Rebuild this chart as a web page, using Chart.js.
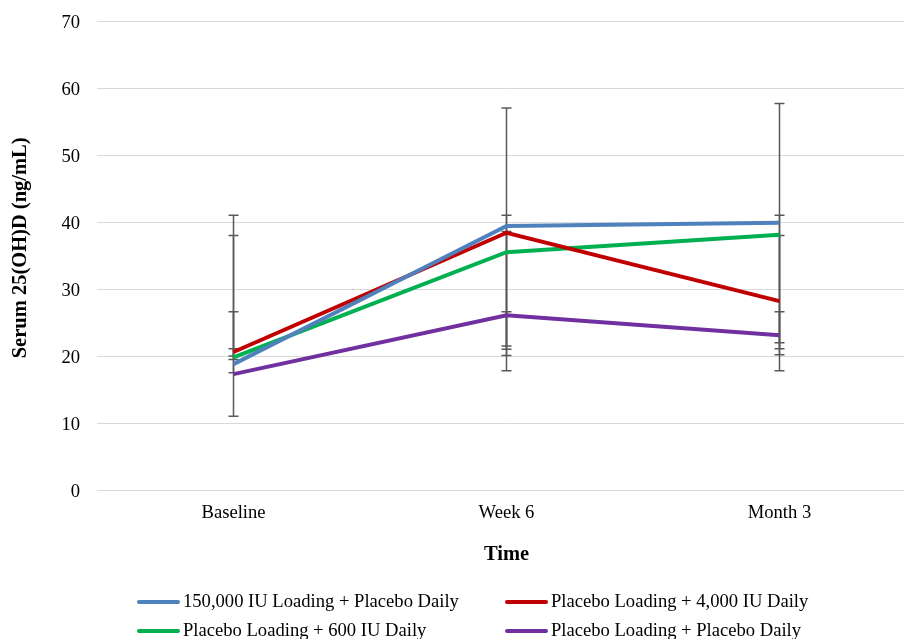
<!DOCTYPE html>
<html>
<head>
<meta charset="utf-8">
<script src="https://cdn.jsdelivr.net/npm/chart.js@4/dist/chart.umd.min.js"></script>
<style>
  html, body { margin: 0; padding: 0; background: #fff; overflow: hidden; width: 904px; height: 639px; }
  #wrap { position: absolute; left: 0; top: 0; width: 916px; height: 639px; }
  .lg { position: absolute; font-family: "Liberation Serif", "Times New Roman", serif; font-size: 18.6px; color: #000; white-space: nowrap; line-height: 20px; }
  .lg span.sw { display: inline-block; width: 43px; height: 4px; vertical-align: middle; margin-right: 3px; position: relative; top: -1px; border-radius: 2px; }
</style>
</head>
<body>
<div id="wrap"><canvas id="c" width="916" height="639"></canvas></div>
<div id="legend"></div>
<script>
// ---- data ----
const categories = ['Baseline', 'Week 6', 'Month 3'];
const seriesNames = [
  '150,000 IU Loading + Placebo Daily',
  'Placebo Loading + 4,000 IU Daily',
  'Placebo Loading + 600 IU Daily',
  'Placebo Loading + Placebo Daily'
];
const loading150 = [18.8, 39.4, 39.9];
const daily4000 = [20.6, 38.4, 28.2];
const daily600 = [19.8, 35.5, 38.1];
const placeboBoth = [17.3, 26.1, 23.1];
// error bar ends (low / high)
const loading150Low = [11.0, 21.5, 22.0];
const loading150High = [26.6, 57.0, 57.7];
const daily4000Low = [20.0, 17.8, 17.8];
const daily4000High = [41.0, 41.0, 38.0];
const daily600Low = [19.5, 20.1, 21.1];
const daily600High = [38.0, 38.6, 41.0];
const placeboLow = [17.5, 21.0, 20.2];
const placeboHigh = [21.1, 26.6, 26.6];
const yTicks = [0, 10, 20, 30, 40, 50, 60, 70];

const colors = ['#4F81BD', '#C00000', '#00B050', '#7030A0'];
const values = [loading150, daily4000, daily600, placeboBoth];
const lows = [loading150Low, daily4000Low, daily600Low, placeboLow];
const highs = [loading150High, daily4000High, daily600High, placeboHigh];

const FONT = '"Liberation Serif", "Times New Roman", serif';
const FS = 18.6;
const TFS = 20.5;

const errorBarPlugin = {
  id: 'errorBars',
  beforeDatasetsDraw(chart) {
    const ctx = chart.ctx;
    const xs = chart.scales.x, ys = chart.scales.y;
    ctx.save();
    ctx.strokeStyle = '#595959';
    ctx.lineWidth = 1.5;
    for (let s = 0; s < values.length; s++) {
      for (let i = 0; i < categories.length; i++) {
        const x = xs.getPixelForValue(i);
        const yl = ys.getPixelForValue(lows[s][i]);
        const yh = ys.getPixelForValue(highs[s][i]);
        ctx.beginPath();
        ctx.moveTo(x, yl); ctx.lineTo(x, yh);
        ctx.moveTo(x - 5, yl); ctx.lineTo(x + 5, yl);
        ctx.moveTo(x - 5, yh); ctx.lineTo(x + 5, yh);
        ctx.stroke();
      }
    }
    ctx.restore();
  }
};

new Chart(document.getElementById('c'), {
  type: 'line',
  data: {
    labels: categories,
    datasets: values.map((v, i) => ({
      label: seriesNames[i],
      data: v,
      borderColor: colors[i],
      backgroundColor: colors[i],
      borderWidth: 4,
      pointRadius: 0,
      tension: 0,
      fill: false
    }))
  },
  options: {
    responsive: false,
    animation: false,
    layout: { padding: { top: 21, left: 8, right: 0, bottom: 72 } },
    plugins: { legend: { display: false }, tooltip: { enabled: false } },
    scales: {
      x: {
        offset: true,
        grid: { display: false, drawTicks: false },
        border: { display: false },
        ticks: { color: '#000', font: { family: FONT, size: FS }, padding: 12 },
        title: { display: true, text: 'Time', color: '#000', font: { family: FONT, size: TFS, weight: 'bold' }, padding: { top: 6, bottom: 0 } }
      },
      y: {
        min: 0, max: 70,
        afterBuildTicks(scale) { scale.ticks = yTicks.map(v => ({ value: v })); },
        grid: { color: '#D9D9D9', lineWidth: 1, drawTicks: false },
        border: { display: false },
        ticks: { color: '#000', font: { family: FONT, size: FS, lineHeight: 0.4 }, padding: 17, labelOffset: 2 },
        title: { display: true, text: '\u00A0\u00A0\u00A0Serum 25(OH)D (ng/mL)', color: '#000', font: { family: FONT, size: TFS, weight: 'bold' }, padding: { top: 0, bottom: 10 } },
        afterFit(scale) { scale.width = 89; }
      }
    }
  },
  plugins: [errorBarPlugin]
});

// legend (HTML, built from the series names/colours)
const legendPos = [[137, 591], [505, 591], [137, 620], [505, 620]];
const lg = document.getElementById('legend');
seriesNames.forEach((n, i) => {
  const d = document.createElement('div');
  d.className = 'lg';
  d.style.left = legendPos[i][0] + 'px';
  d.style.top = legendPos[i][1] + 'px';
  d.innerHTML = '<span class="sw" style="background:' + colors[i] + '"></span>' + n;
  lg.appendChild(d);
});
</script>
</body>
</html>
